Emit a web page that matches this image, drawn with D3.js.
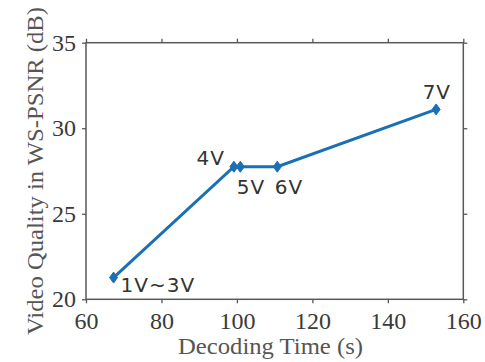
<!DOCTYPE html>
<html>
<head>
<meta charset="utf-8">
<script src="https://cdn.jsdelivr.net/npm/d3@7"></script>
<style>
  body { margin: 0; background: #fff; }
</style>
</head>
<body>
<svg id="chart" width="485" height="362"></svg>
<script>
// decoding time (s) and quality (dB) per number of views
var labels = ["1V~3V", "4V", "5V", "6V", "7V"];
var decodeTime = [67.3, 99.2, 100.9, 110.7, 152.8];
var wsPsnr = [21.27, 27.75, 27.75, 27.75, 31.1];
var xTicks = [60, 80, 100, 120, 140, 160];
var yTicks = [20, 25, 30, 35];

var svg = d3.select("#chart");
var x = d3.scaleLinear().domain([60, 160]).range([86, 463.3]);
var y = d3.scaleLinear().domain([20, 35]).range([299.3, 42.7]);
var axisColor = "#595959";
var serif = "Liberation Serif, DejaVu Serif, serif";

// box
svg.append("rect")
    .attr("x", x(60)).attr("y", y(35))
    .attr("width", x(160) - x(60)).attr("height", y(20) - y(35))
    .attr("fill", "none").attr("stroke", axisColor).attr("stroke-width", 1.5);

function styleAxis(g) {
    g.select(".domain").remove();
    g.selectAll(".tick line").attr("stroke", axisColor).attr("stroke-width", 1.3);
}

svg.append("g").attr("transform", "translate(0," + y(20) + ")")
    .call(d3.axisBottom(x).tickValues(xTicks).tickSize(4).tickPadding(9))
    .call(styleAxis)
    .selectAll("text").style("font-family", serif).style("font-size", "24px").attr("fill", "#3a3a3a");
svg.append("g").attr("transform", "translate(0," + y(35) + ")")
    .call(d3.axisTop(x).tickValues(xTicks).tickSize(4).tickFormat(""))
    .call(styleAxis);
svg.append("g").attr("transform", "translate(" + x(60) + ",0)")
    .call(d3.axisLeft(y).tickValues(yTicks).tickSize(4).tickPadding(6))
    .call(styleAxis)
    .selectAll("text").style("font-family", serif).style("font-size", "24px").attr("fill", "#3a3a3a");
svg.append("g").attr("transform", "translate(" + x(160) + ",0)")
    .call(d3.axisRight(y).tickValues(yTicks).tickSize(4).tickFormat(""))
    .call(styleAxis);

// axis titles
svg.append("text")
    .attr("x", 178).attr("y", 354)
    .attr("textLength", 185).attr("lengthAdjust", "spacingAndGlyphs")
    .style("font-family", serif).style("font-size", "24px").attr("fill", "#555")
    .text("Decoding  Time (s)");
svg.append("text")
    .attr("transform", "translate(43,335) rotate(-90)")
    .attr("textLength", 328).attr("lengthAdjust", "spacingAndGlyphs")
    .style("font-family", serif).style("font-size", "24px").attr("fill", "#555")
    .text("Video Quality in WS-PSNR (dB)");

// series
var pts = decodeTime.map(function (d, i) { return { t: d, q: wsPsnr[i], name: labels[i] }; });
var blue = "#1a6fb5";
svg.append("path")
    .datum(pts)
    .attr("d", d3.line().x(function (d) { return x(d.t); }).y(function (d) { return y(d.q); }))
    .attr("fill", "none").attr("stroke", blue).attr("stroke-width", 3);

svg.selectAll(".mk").data(pts).enter().append("path")
    .attr("class", "mk")
    .attr("transform", function (d) { return "translate(" + x(d.t) + "," + y(d.q) + ")"; })
    .attr("d", "M0,-5.5L4,0L0,5.5L-4,0Z")
    .attr("fill", blue).attr("stroke", blue).attr("stroke-width", 1);

// point labels (offsets from marker)
var offs = [[7, 14, "start"], [-9, -2, "end"], [-3.5, 27.5, "start"], [-2.5, 27.5, "start"], [-13.5, -10, "start"]];
svg.selectAll(".lbl").data(pts).enter().append("text")
    .attr("class", "lbl")
    .attr("x", function (d, i) { return x(d.t) + offs[i][0]; })
    .attr("y", function (d, i) { return y(d.q) + offs[i][1]; })
    .attr("text-anchor", function (d, i) { return offs[i][2]; })
    .style("font-family", "DejaVu Sans, sans-serif").style("font-size", "20px")
    .style("letter-spacing", "1px")
    .attr("fill", "#333")
    .text(function (d) { return d.name; });
</script>
</body>
</html>
